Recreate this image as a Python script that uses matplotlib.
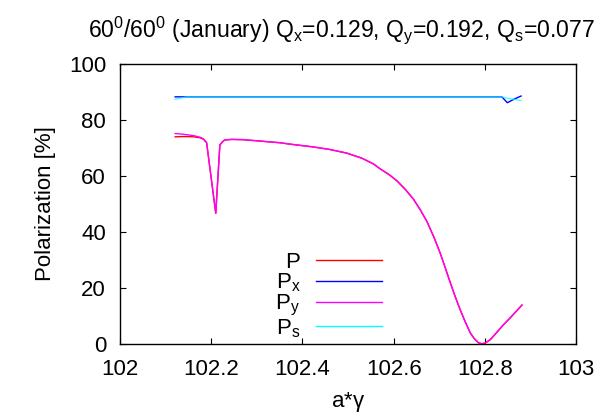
import matplotlib
matplotlib.use("Agg")
import matplotlib.pyplot as plt
from matplotlib.lines import Line2D

plt.rcParams['font.family'] = ['Liberation Sans', 'DejaVu Sans']
plt.rcParams['mathtext.fontset'] = 'custom'
plt.rcParams['mathtext.rm'] = 'Liberation Sans'
plt.rcParams['mathtext.it'] = 'Liberation Sans'

# a*gamma scan and polarization components [%]
agamma = [102.121, 102.135, 102.15, 102.163, 102.175, 102.183, 102.19, 102.210,
          102.219, 102.225, 102.230, 102.245, 102.27, 102.30, 102.351, 102.373,
          102.424, 102.46, 102.497, 102.53, 102.556, 102.570, 102.590, 102.607,
          102.625, 102.643, 102.658, 102.673, 102.688, 102.702, 102.713, 102.724,
          102.735, 102.746, 102.757, 102.768, 102.777, 102.786, 102.793, 102.800,
          102.812, 102.826, 102.840, 102.855, 102.868, 102.881]
P = [74.0, 74.1, 74.1, 74.0, 73.7, 73.2, 71.9, 46.7,
     71.1, 72.3, 72.9, 73.1, 73.0, 72.6, 71.9, 71.4,
     70.4, 69.5, 68.2, 66.4, 64.3, 62.6, 60.5, 58.3,
     55.3, 51.8, 48.0, 43.7, 38.2, 32.4, 27.2, 21.9,
     16.8, 12.1, 7.8, 3.9, 1.8, 0.4, 0.1, 0.3,
     1.6, 4.2, 6.8, 9.3, 11.6, 13.9]
Py = [75.2, 75.0, 74.7, 74.4, 73.9, 73.3, 71.9, 46.7,
      71.1, 72.3, 72.9, 73.1, 73.0, 72.6, 71.9, 71.4,
      70.4, 69.5, 68.2, 66.4, 64.3, 62.6, 60.5, 58.3,
      55.3, 51.8, 48.0, 43.7, 38.2, 32.4, 27.2, 21.9,
      16.8, 12.1, 7.8, 3.9, 1.8, 0.4, 0.1, 0.3,
      1.6, 4.2, 6.8, 9.3, 11.6, 13.9]

agamma_xs = [102.121, 102.146, 102.3, 102.5, 102.7, 102.837, 102.849, 102.864, 102.879]
Px = [88.3, 88.3, 88.3, 88.3, 88.3, 88.3, 86.2, 87.5, 88.6]
Ps = [87.4, 88.3, 88.3, 88.3, 88.3, 88.3, 87.8, 87.4, 87.0]

title = r"60$^0$/60$^0$ (January) Q$_x$=0.129, Q$_y$=0.192, Q$_s$=0.077"
fs = 16

fig = plt.figure(figsize=(6.15, 4.19), dpi=100)
ax = fig.add_axes([0.195, 0.179, 0.742, 0.668])

ax.plot(agamma, P, color='red', lw=1.0)
ax.plot(agamma_xs, Px, color='blue', lw=1.0)
ax.plot(agamma, Py, color='magenta', lw=1.0)
ax.plot(agamma_xs, Ps, color='cyan', lw=1.0, alpha=0.7)

ax.set_xlim(102, 103)
ax.set_ylim(0, 100)
ax.set_xticks([102, 102.2, 102.4, 102.6, 102.8, 103])
ax.set_xticklabels(['102', '102.2', '102.4', '102.6', '102.8', '103'])
ax.set_yticks([0, 20, 40, 60, 80, 100])
ax.tick_params(direction='in', length=4, width=0.8, top=True, right=True,
               labelsize=fs, colors='black')
ax.tick_params(axis='x', pad=11)
ax.tick_params(axis='y', pad=10)
for s in ax.spines.values():
    s.set_linewidth(1.0)

ax.set_xlabel(r"a*$\gamma$", fontsize=fs, labelpad=7)
ax.set_ylabel("Polarization [%]", fontsize=fs, labelpad=9)
fig.text(0.556, 0.928, title, ha='center', va='center', fontsize=16.6)

handles = [Line2D([], [], color=c, lw=1.0) for c in ['red', 'blue', 'magenta', 'cyan']]
labels = ['P', r'P$_x$', r'P$_y$', r'P$_s$']
leg = ax.legend(handles, labels, loc='lower right', bbox_to_anchor=(0.585, 0.0),
                frameon=False, markerfirst=False, fontsize=fs, handlelength=3.0,
                handletextpad=0.7, labelspacing=-0.05, borderpad=0.2, borderaxespad=0)
for t in leg.get_texts():
    t.set_ha('right')

fig.savefig("out.png", dpi=100)
